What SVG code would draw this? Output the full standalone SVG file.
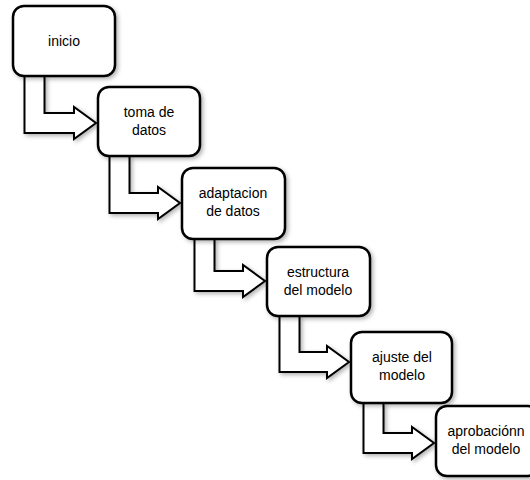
<svg xmlns="http://www.w3.org/2000/svg" width="530" height="480" viewBox="0 0 530 480">
<defs>
<filter id="sh" x="-20%" y="-20%" width="140%" height="140%">
<feDropShadow dx="2" dy="2" stdDeviation="2" flood-color="#000" flood-opacity="0.3"/>
</filter>
<style>
.box{fill:#fff;stroke:#000;stroke-width:2.5;filter:url(#sh)}
.arr{fill:#fff;stroke:#000;stroke-width:2;stroke-linejoin:miter;filter:url(#sh)}
.t{font-family:"Liberation Sans",Arial,sans-serif;font-size:14px;fill:#000;text-anchor:middle}
</style>
</defs>
<rect width="530" height="480" fill="#fff"/>
<g id="connectors">
<path class="arr" d="M24.5,76 V133 H74 V139 L96,123 L74,107 V113 H44.5 V76"/>
<path class="arr" d="M109.5,156 V213 H158 V219 L180,203 L158,187 V193 H129.5 V156"/>
<path class="arr" d="M194.5,239 V291 H243 V297 L265,281 L243,265 V271 H214.5 V239"/>
<path class="arr" d="M279.5,316 V372 H327 V378 L349,362 L327,346 V352 H299.5 V316"/>
<path class="arr" d="M363.5,403 V453 H412 V459 L434,443 L412,427 V433 H383.5 V403"/>
</g>
<g id="n1"><rect class="box" x="13" y="6" width="102" height="70" rx="11"/><text class="t" x="64" y="46">inicio</text></g>
<g id="n2"><rect class="box" x="98" y="87" width="102" height="69" rx="11"/><text class="t" x="149" y="117">toma de</text><text class="t" x="149" y="135">datos</text></g>
<g id="n3"><rect class="box" x="182" y="168" width="103" height="71" rx="11"/><text class="t" x="233" y="198">adaptacion</text><text class="t" x="233" y="216">de datos</text></g>
<g id="n4"><rect class="box" x="267" y="247" width="103" height="69" rx="11"/><text class="t" x="318" y="277">estructura</text><text class="t" x="318" y="295">del modelo</text></g>
<g id="n5"><rect class="box" x="351" y="332" width="101" height="71" rx="11"/><text class="t" x="402" y="362">ajuste del</text><text class="t" x="402" y="380">modelo</text></g>
<g id="n6"><rect class="box" x="436" y="406" width="103" height="70" rx="11"/><text class="t" x="486" y="436">aprobaciónn</text><text class="t" x="486" y="454">del modelo</text></g>
</svg>
